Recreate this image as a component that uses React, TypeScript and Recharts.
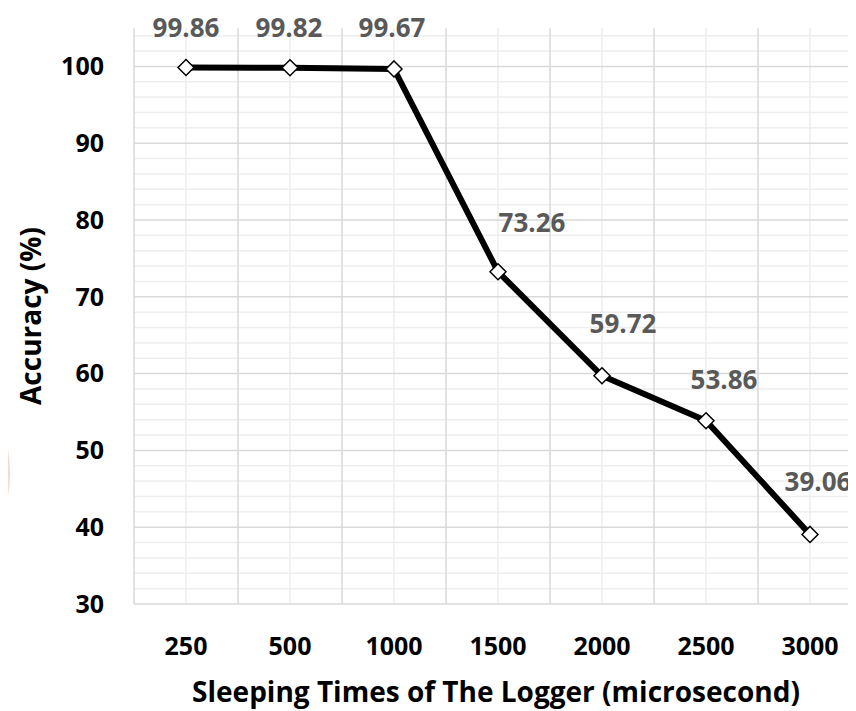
import React from 'react';
import { LineChart, Line, XAxis, YAxis, CartesianGrid, LabelList } from 'recharts';

const categories = ['250', '500', '1000', '1500', '2000', '2500', '3000'];
const accuracy = [99.86, 99.82, 99.67, 73.26, 59.72, 53.86, 39.06];
const yTicks = [30, 40, 50, 60, 70, 80, 90, 100];
const yMinorTicks = [32, 34, 36, 38, 42, 44, 46, 48, 52, 54, 56, 58, 62, 64, 66, 68, 72, 74, 76, 78, 82, 84, 86, 88, 92, 94, 96, 98, 102, 104];
const Y_DOMAIN: [number, number] = [30, 105];

const data = categories.map((c, i) => ({ name: c, acc: accuracy[i] }));

// label nudges (presentation only)
const LABEL_SHIFT: [number, number][] = [
  [0, -40], [-1, -41], [-2, -42], [34, -50], [21, -53], [18, -42], [8, -53],
];

const FONT = '"Open Sans", "Liberation Sans", sans-serif';

const applyScale = (s: any, v: any): number | undefined => {
  let r: any;
  try {
    if (typeof s === 'function') r = s(v);
    else if (s && typeof s.map === 'function') r = s.map(v);
    else if (s && typeof s.scale === 'function') r = s.scale(v);
  } catch (e) {
    r = undefined;
  }
  return typeof r === 'number' && isFinite(r) ? r : undefined;
};

const yCoords = (values: number[]) => (props: any) => {
  const s = props?.yAxis?.scale;
  const off = props?.offset || { top: 28, height: 576 };
  return values.map((v) => {
    const r = applyScale(s, v);
    if (r !== undefined) return r;
    return off.top + ((Y_DOMAIN[1] - v) / (Y_DOMAIN[1] - Y_DOMAIN[0])) * off.height;
  });
};

const categoryPoints = (props: any): number[] => {
  const s = props?.xAxis?.scale;
  const off = props?.offset || { left: 134, width: 728 };
  const n = categories.length;
  return categories.map((c, i) => {
    const r = applyScale(s, c);
    if (r !== undefined) return r;
    return off.left + (off.width / n) * (i + 0.5);
  });
};

// category centres (minor) and boundaries between categories (major)
const xCentres = (props: any) => categoryPoints(props);
const xBounds = (props: any) => {
  const pts = categoryPoints(props);
  const step = pts[1] - pts[0];
  return [...pts.map((p) => p - step / 2), pts[pts.length - 1] + step / 2];
};

const Diamond = (props: any) => {
  const { cx, cy, index } = props;
  if (cx == null || cy == null) return null;
  const r = 8;
  return (
    <path
      key={`d-${index}`}
      d={`M${cx},${cy - r} L${cx + r},${cy} L${cx},${cy + r} L${cx - r},${cy} Z`}
      fill="#ffffff"
      stroke="#000000"
      strokeWidth={1.5}
    />
  );
};

const renderLabel = (props: any) => {
  const { x, y, value, index } = props;
  const [dx, dy] = LABEL_SHIFT[index] || [0, -40];
  return (
    <text
      key={`l-${index}`}
      x={x + dx}
      y={y + dy}
      textAnchor="middle"
      dominantBaseline="central"
      fontFamily={FONT}
      fontWeight={700}
      fontSize={26}
      fill="#595959"
    >
      {Number(value).toFixed(2)}
    </text>
  );
};

const YTitle = (props: any) => {
  const vb = props.viewBox || {};
  const cx = 30;
  const cy = (vb.y ?? 28) + (vb.height ?? 576) / 2;
  return (
    <text
      x={cx}
      y={cy}
      transform={`rotate(-90, ${cx}, ${cy})`}
      textAnchor="middle"
      dominantBaseline="central"
      fontFamily={FONT}
      fontWeight={700}
      fontSize={28}
      fill="#000000"
    >
      Accuracy (%)
    </text>
  );
};

const XTitle = (props: any) => {
  const vb = props.viewBox || {};
  const cx = (vb.x ?? 134) + (vb.width ?? 728) / 2 - 2;
  return (
    <text
      x={cx}
      y={702}
      textAnchor="middle"
      fontFamily={FONT}
      fontWeight={700}
      fontSize={28}
      fill="#000000"
    >
      Sleeping Times of The Logger (microsecond)
    </text>
  );
};

export default function App() {
  return (
    <div
      style={{
        margin: '-8px 0 0 -8px',
        width: 856,
        height: 711,
        overflow: 'hidden',
        position: 'relative',
        background: '#ffffff',
      }}
    >
      <div
        style={{
          position: 'absolute',
          left: -293,
          top: 323,
          width: 300,
          height: 300,
          borderRadius: '50%',
          background: '#e8e8e8',
          borderRight: '3px solid rgba(255, 205, 185, 0.5)',
        }}
      />
      <div style={{ position: 'absolute', left: 0, top: 0 }}>
        <LineChart
          width={862}
          height={711}
          data={data}
          margin={{ top: 28, right: 0, bottom: 0, left: 0 }}
        >
          <CartesianGrid
            stroke="#eeeeee"
            strokeWidth={1.5}
            horizontalCoordinatesGenerator={yCoords(yMinorTicks)}
            verticalCoordinatesGenerator={xCentres}
          />
          <CartesianGrid
            stroke="#d9d9d9"
            strokeWidth={1.5}
            horizontalCoordinatesGenerator={yCoords(yTicks)}
            verticalCoordinatesGenerator={xBounds}
          />
          <XAxis
            dataKey="name"
            height={107}
            padding={{ left: 52, right: 52 }}
            axisLine={false}
            tickLine={false}
            tickSize={0}
            tickMargin={33}
            interval={0}
            tick={{ fontFamily: FONT, fontWeight: 700, fontSize: 25, fill: '#000000' }}
            label={<XTitle />}
          />
          <YAxis
            domain={Y_DOMAIN}
            ticks={yTicks}
            width={134}
            axisLine={false}
            tickLine={false}
            tickSize={0}
            tickMargin={30}
            interval={0}
            allowDataOverflow
            tick={{ fontFamily: FONT, fontWeight: 700, fontSize: 25, fill: '#000000' }}
            label={<YTitle />}
          />
          <Line
            type="linear"
            dataKey="acc"
            stroke="#000000"
            strokeWidth={6}
            dot={<Diamond />}
            activeDot={false}
            isAnimationActive={false}
          >
            <LabelList dataKey="acc" content={renderLabel} />
          </Line>
        </LineChart>
      </div>
    </div>
  );
}
